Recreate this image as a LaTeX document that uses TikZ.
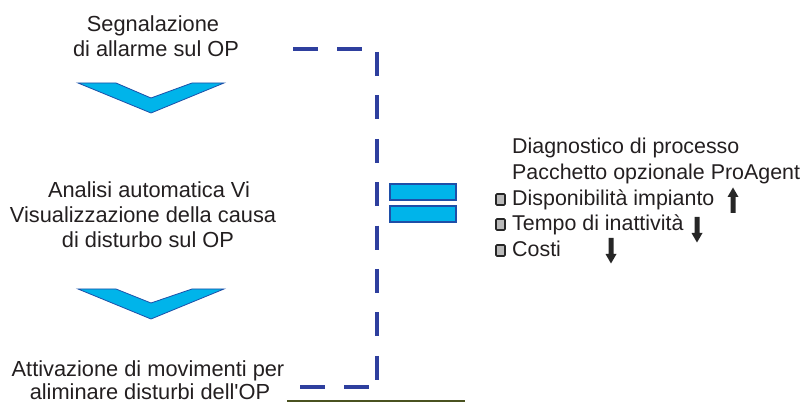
\documentclass[tikz,border=0pt]{standalone}
\usepackage{fontspec}
\setmainfont{Liberation Sans}[Ligatures=TeXOff]
\definecolor{dashblue}{HTML}{2E3F9E}
\definecolor{chevfill}{HTML}{00B4EA}
\definecolor{chevline}{HTML}{1E4FA8}
\definecolor{txt}{HTML}{231F20}
\definecolor{olive}{HTML}{4A5220}
\begin{document}
\begin{tikzpicture}[x=1pt,y=-1pt,
  lbl/.style={inner sep=0pt,anchor=base,text=txt,font=\fontsize{21.8}{25}\selectfont},
  rlbl/.style={inner sep=0pt,anchor=base west,text=txt,font=\fontsize{21.4}{25}\selectfont},
  chev/.style={fill=chevfill,draw=chevline,line width=0.8pt,line join=miter},
  bar/.style={fill=chevfill,draw=chevline,line width=1.2pt},
  dashline/.style={draw=dashblue,line width=3.6pt},
  bulletbox/.style={draw=black!85,fill=gray!55,line width=1.6pt,rounded corners=1pt},
  thickarrow/.style={fill=black!85,draw=none}]
\useasboundingbox (0,0) rectangle (806,403);
% left texts
\node[lbl] (t1a) at (153,32) {Segnalazione};
\node[lbl] (t1b) at (156,57) {di allarme sul OP};
\node[lbl] (t2a) at (149,198) {Analisi automatica Vi};
\node[lbl] (t2b) at (143,223) {Visualizzazione della causa};
\node[lbl] (t2c) at (148,248) {di disturbo sul OP};
\node[lbl] (t3a) at (148,377) {Attivazione di movimenti per};
\node[lbl] (t3b) at (150,399.5) {aliminare disturbi dell'OP};
% chevrons
\draw[chev] (78,83) -- (116,83) -- (151,98) -- (192,83) -- (224,83) -- (151,113) -- cycle;
\draw[chev] (78,289) -- (116,289) -- (151,303) -- (192,289) -- (224,289) -- (151,319) -- cycle;
% dashed bracket
\coordinate (h1s) at (293,49);
\coordinate (h1e) at (362,49);
\coordinate (vs) at (377,52);
\coordinate (ve) at (377,380);
\coordinate (h2s) at (300,387);
\coordinate (h2e) at (369,387);
\draw[dashline,dash pattern=on 25pt off 19pt] (h1s) -- (h1e);
\draw[dashline,dash pattern=on 24pt off 19.4pt] (vs) -- (ve);
\draw[dashline,dash pattern=on 25pt off 19pt] (h2s) -- (h2e);
% olive rule
\coordinate (rs) at (287,401);
\coordinate (re) at (465,401);
\draw[olive,line width=2pt] (rs) -- (re);
% equals bars
\draw[bar] (390,184) rectangle (456,200);
\draw[bar] (390,206) rectangle (456,222);
% right texts
\node[rlbl] (r1) at (512,154) {Diagnostico di processo};
\node[rlbl] (r2) at (512,180) {Pacchetto opzionale ProAgent};
\node[rlbl] (r3) at (512,206) {Disponibilità impianto};
\node[rlbl] (r4) at (512,231) {Tempo di inattività};
\node[rlbl] (r5) at (512,257) {Costi};
% bullets
\draw[bulletbox] (496,194) rectangle (505,205);
\draw[bulletbox] (496,219) rectangle (505,230);
\draw[bulletbox] (496,245) rectangle (505,256);
% arrows
\fill[thickarrow] (730.5,213) -- (730.5,197) -- (727.5,197) -- (733,187.5) -- (738.5,197) -- (735.5,197) -- (735.5,213) -- cycle;
\fill[thickarrow] (694.5,217) -- (694.5,233) -- (691.5,233) -- (697,242.5) -- (702.5,233) -- (699.5,233) -- (699.5,217) -- cycle;
\fill[thickarrow] (608.5,238) -- (608.5,254) -- (605.5,254) -- (611,263.5) -- (616.5,254) -- (613.5,254) -- (613.5,238) -- cycle;
\end{tikzpicture}
\end{document}
